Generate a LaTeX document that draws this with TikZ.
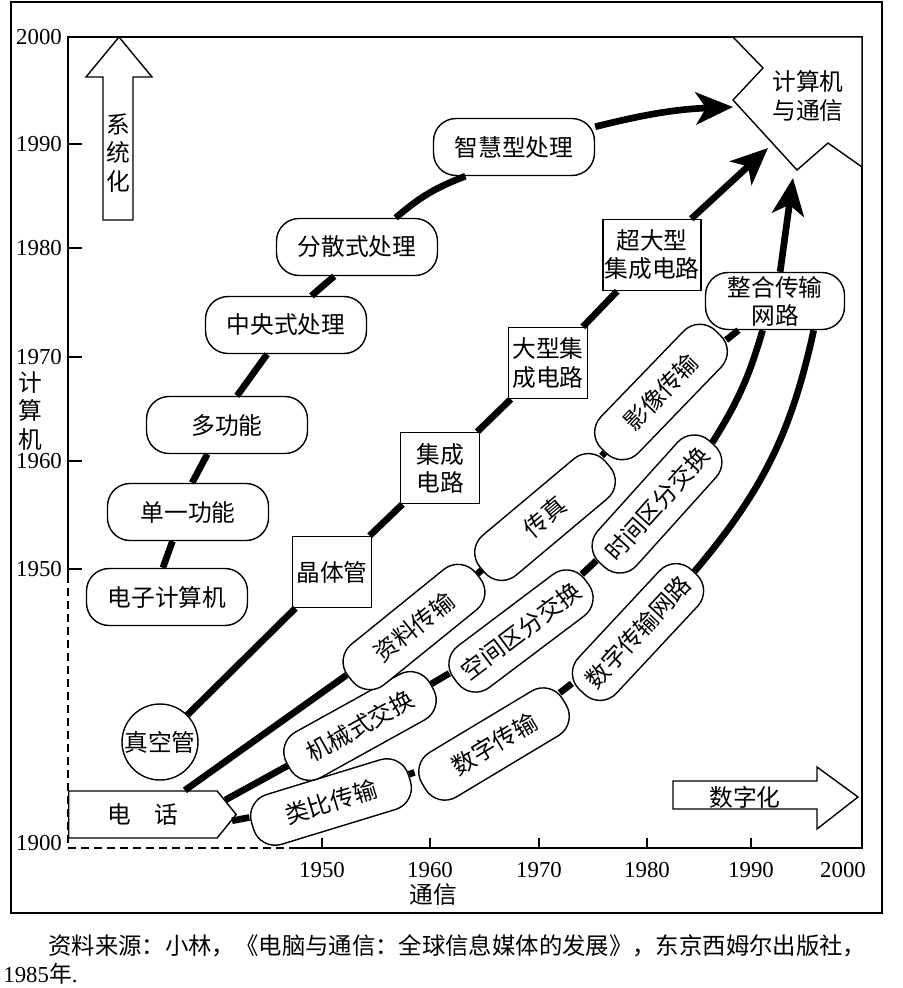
\documentclass[tikz,border=0pt]{standalone}
\usepackage{fontspec}
\setmainfont{Liberation Serif}
\newfontfamily\cjk{Noto Sans CJK SC}
\usetikzlibrary{arrows.meta, shapes.symbols}

\begin{document}
\begin{tikzpicture}[
    x=0.02cm, y=0.02cm,
    txt/.style={font=\cjk\fontsize{13.5}{16}\selectfont},
    numlab/.style={font=\fontsize{13}{15}\selectfont, inner sep=1pt},
    cbox/.style={txt, rectangle, rounded corners=0.45cm, draw, fill=white, line width=0.8pt, minimum width=3.22cm, minimum height=1.14cm, inner sep=1pt},
    tbox/.style={txt, rectangle, rounded corners=0.45cm, draw, fill=white, line width=0.8pt, minimum width=3.28cm, minimum height=1.04cm, inner sep=1pt},
    icbox/.style={txt, rectangle, draw, fill=white, line width=0.8pt, minimum width=1.58cm, minimum height=1.42cm, inner sep=1pt, align=center},
    trk/.style={line width=3.8pt},
    arr/.style={trk, -{Stealth[length=0.74cm, width=0.64cm, inset=0.2cm]}},
    hollow/.style={draw, line width=0.8pt, fill=white}
  ]
    \useasboundingbox (0,0) rectangle (903,-988);

    % frames and axes
    \draw[line width=1.3pt] (11,-2) rectangle (882,-913);
    \draw[line width=0.9pt] (68,-578) -- (68,-37) -- (862,-37) -- (862,-848) -- (297,-848);
    \draw[line width=0.9pt, dash pattern=on 0.16cm off 0.1cm] (297,-848) -- (68,-848) -- (68,-578);
    \foreach \yr/\py in {1990/144, 1980/248, 1970/357, 1960/461, 1950/569} {
      \draw[line width=0.9pt] (68,-\py) -- (82,-\py);
      \node[numlab, anchor=east] at (64,-\py) {\yr};
    }
    \node[numlab, anchor=east] at (64,-37) {2000};
    \node[numlab, anchor=east] at (64,-843) {1900};
    \foreach \yr/\px in {1950/322, 1960/430, 1970/539, 1980/647, 1990/751} {
      \draw[line width=0.9pt] (\px,-848) -- (\px,-838);
      \node[numlab] at (\px,-870) {\yr};
    }
    \node[numlab] at (843,-870) {2000};
    \node[txt, align=center] (ylab) at (30,-411) {计\\算\\机};
    \node[txt] (xlab) at (433,-895) {通信};

    % hollow direction arrows
    \draw[hollow] (119,-37) -- (152,-77) -- (133,-77) -- (133,-220) -- (103,-220) -- (103,-77) -- (86,-77) -- cycle;
    \node[txt, align=center] (sysarrow) at (118,-153) {系\\统\\化};
    \draw[hollow] (673,-781) -- (817,-781) -- (817,-767) -- (858,-797) -- (817,-829) -- (817,-809) -- (673,-809) -- cycle;
    \node[txt] (digarrow) at (745,-797) {数字化};

    % goal
    \draw[hollow] (733,-37) -- (763,-68) -- (733,-100) -- (797,-170) -- (828,-143) -- (862,-167) -- (862,-37) -- cycle;
    \node[txt, align=center] (cc) at (808,-96) {计算机\\与通信};
    \coordinate (tipA) at (733,-107);
    \coordinate (tipB) at (768,-148);
    \coordinate (tipC) at (793,-178);

    % computer track
    \node[cbox] (ecomp) at (167,-597) {电子计算机};
    \node[cbox] (single) at (188,-512) {单一功能};
    \node[cbox] (multi) at (227,-425) {多功能};
    \node[cbox] (central) at (286,-325) {中央式处理};
    \node[cbox] (distrib) at (357,-247) {分散式处理};
    \node[cbox] (smart) at (514,-147) {智慧型处理};

    % device track
    \node[txt, circle, draw, fill=white, line width=0.8pt, minimum size=1.52cm, inner sep=0pt] (vtube) at (160,-742) {真空管};
    \node[icbox] (trans) at (332,-572) {晶体管};
    \node[icbox] (ic) at (440,-468) {集成\\电路};
    \node[icbox] (lsi) at (548,-363) {大型集\\成电路};
    \node[icbox, minimum width=1.94cm] (vlsi) at (652,-255) {超大型\\集成电路};

    % communication track
    \node[txt, signal, signal to=east, signal pointer angle=102, draw, fill=white, line width=0.8pt, minimum width=3.35cm, minimum height=0.94cm, inner sep=0pt, anchor=west] (phone) at (68,-814.5) {电\hspace{1em}话};
    \node[tbox, rotate=17] (analog) at (331,-802) {类比传输};
    \node[tbox, rotate=29] (mech) at (360,-726) {机械式交换};
    \node[tbox, rotate=39] (data) at (414,-627) {资料传输};
    \node[tbox, rotate=31] (digi) at (494,-744) {数字传输};
    \node[tbox, rotate=37] (space) at (521,-631) {空间区分交换};
    \node[tbox, rotate=40] (fax) at (545,-517) {传真};
    \node[tbox, rotate=47] (dnet) at (638,-632) {数字传输网路};
    \node[tbox, rotate=48] (time) at (657,-504) {时间区分交换};
    \node[tbox, rotate=46] (image) at (661,-392) {影像传输};
    \node[cbox, minimum width=2.78cm, align=center, inner sep=0pt] (integ) at (775,-301) {整合传输\\网路};

    \draw[trk] (ecomp.98) -- (single.242);
    \draw[trk] (single.82) -- (multi.236);
    \draw[trk] (multi.71) -- (central.237);
    \draw[trk] (central.49) -- (distrib.232);
    \draw[trk] (distrib.37) to[bend left=10] (smart.211);
    \draw[arr] (smart.14) to[bend left=6] (tipA);

    \draw[trk] (vtube) -- (trans);
    \draw[trk] (trans) -- (ic);
    \draw[trk] (ic) -- (lsi);
    \draw[trk] (lsi) -- (vlsi);
    \draw[arr] (vlsi) -- (tipB);

    \draw[trk] (phone.30) -- (data);
    \draw[trk] (data) -- (fax);
    \draw[trk] (fax) -- (image);
    \draw[trk] (image) -- (integ);
    \draw[trk] (phone.10) -- (mech);
    \draw[trk] (mech) -- (space);
    \draw[trk] (space) -- (time);
    \draw[trk] (time.east) to[bend right=8] (integ.-113);
    \draw[trk] (phone.-4) -- (analog);
    \draw[trk] (analog) -- (digi);
    \draw[trk] (digi) -- (dnet);
    \draw[trk] (dnet.east) to[bend right=14] (integ.-37);
    \draw[arr] (integ.80) -- (tipC);

    % source
    \node[txt, anchor=west, inner sep=0pt, font=\cjk\fontsize{13.3}{16}\selectfont] (src) at (48,-946) {资料来源：小林，《电脑与通信：全球信息媒体的发展》，东京西姆尔出版社，};
    \node[numlab, anchor=west, inner sep=0pt] (srcyr) at (3,-974) {1985{\cjk 年}.};
  \end{tikzpicture}
\end{document}
